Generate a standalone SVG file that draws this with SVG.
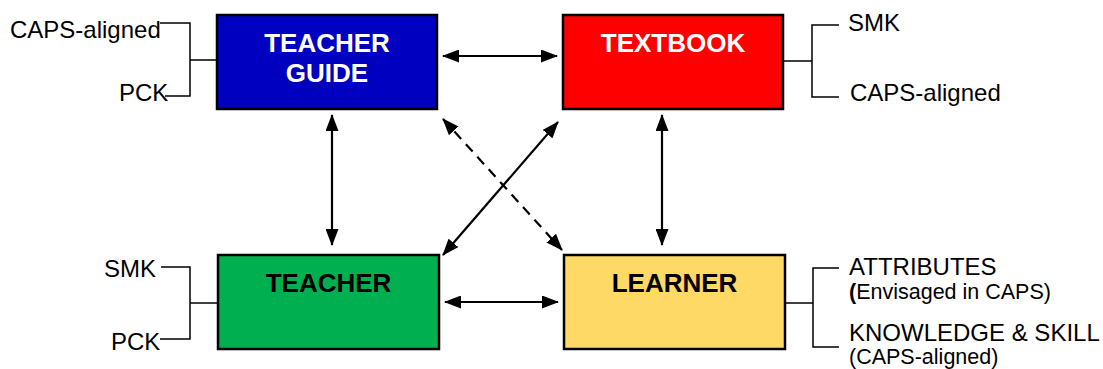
<svg xmlns="http://www.w3.org/2000/svg" width="1103" height="369" viewBox="0 0 1103 369">
<style>
.box{stroke:#000;stroke-width:2.5}
.lbl{font-family:"Liberation Sans",Arial,sans-serif;font-weight:bold;font-size:26px;text-anchor:middle}
.t{font-family:"Liberation Sans",Arial,sans-serif;font-size:24px;fill:#000}
.s{font-family:"Liberation Sans",Arial,sans-serif;font-size:21.5px;fill:#000}
.lead{fill:none;stroke:#000;stroke-width:1.5}
.arr{fill:none;stroke:#000;stroke-width:2.2;marker-start:url(#ah);marker-end:url(#ah)}
</style>
<defs>
<marker id="ah" viewBox="0 0 17 13" refX="16" refY="6.5" markerWidth="17" markerHeight="13" markerUnits="userSpaceOnUse" orient="auto-start-reverse">
<path d="M0,0 L17,6.5 L0,13 Z" fill="#000"/>
</marker>
</defs>
<rect width="1103" height="369" fill="#fff"/>
<g id="teacher-guide">
<rect class="box" x="217" y="15" width="220" height="94" fill="#0000C0"/>
<text class="lbl" x="327" y="52" fill="#fff">TEACHER</text>
<text class="lbl" x="327" y="82" fill="#fff">GUIDE</text>
</g>
<g id="textbook">
<rect class="box" x="563" y="15" width="220" height="94" fill="#FF0000"/>
<text class="lbl" x="673" y="52" fill="#fff">TEXTBOOK</text>
</g>
<g id="teacher">
<rect class="box" x="218" y="255" width="221" height="94" fill="#00B050"/>
<text class="lbl" x="328.5" y="292" fill="#000">TEACHER</text>
</g>
<g id="learner">
<rect class="box" x="564" y="255" width="221" height="94" fill="#FFD966"/>
<text class="lbl" x="674.5" y="292" fill="#000">LEARNER</text>
</g>
<g id="connectors">
<line class="arr" x1="443" y1="56" x2="557" y2="56"/>
<line class="arr" x1="445" y1="302" x2="558" y2="302"/>
<line class="arr" x1="332" y1="115" x2="332" y2="245"/>
<line class="arr" x1="662" y1="115" x2="662" y2="245"/>
<line class="arr" x1="558" y1="122" x2="443" y2="255"/>
<line class="arr" x1="443" y1="119" x2="562" y2="250" stroke-dasharray="10,7"/>
</g>
<g id="tg-notes">
<path class="lead" d="M160,23 H190 V96 H165 M190,60 H217"/>
<text class="t" x="10" y="38">CAPS-aligned</text>
<text class="t" x="119" y="101">PCK</text>
</g>
<g id="tb-notes">
<path class="lead" d="M839,25 H812 V97 H839 M783,61 H812"/>
<text class="t" x="848" y="31">SMK</text>
<text class="t" x="850" y="101">CAPS-aligned</text>
</g>
<g id="teacher-notes">
<path class="lead" d="M161,267 H190 V339 H160 M190,303 H218"/>
<text class="t" x="104" y="277">SMK</text>
<text class="t" x="111" y="350">PCK</text>
</g>
<g id="learner-notes">
<path class="lead" d="M839,268 H813 V347 H839 M785,303 H813"/>
<text class="t" x="849" y="275">ATTRIBUTES</text>
<text class="s" x="849" y="299"><tspan font-weight="bold">(</tspan>Envisaged in CAPS)</text>
<text class="t" x="849" y="341">KNOWLEDGE &amp; SKILL</text>
<text class="s" x="849" y="364">(CAPS-aligned)</text>
</g>
</svg>
